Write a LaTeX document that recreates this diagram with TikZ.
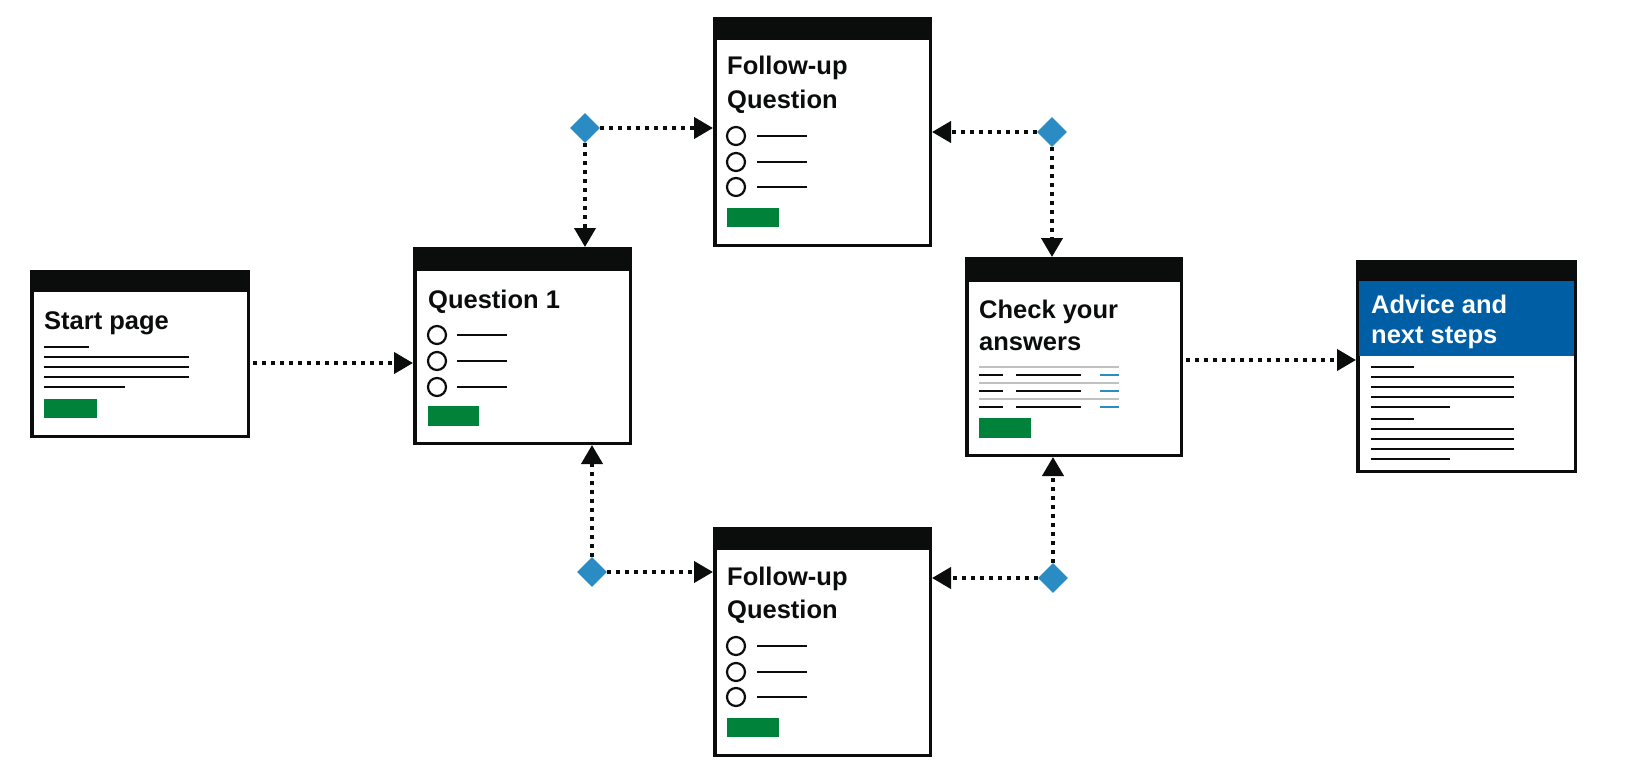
\documentclass[tikz,border=0pt]{standalone}
\usepackage{fontspec}
\setmainfont{Liberation Sans}
\usetikzlibrary{arrows.meta,shapes.geometric}

\definecolor{ink}{HTML}{0B0C0C}
\definecolor{govgreen}{HTML}{00823B}
\definecolor{govblue}{HTML}{005EA5}
\definecolor{linkblue}{HTML}{2B8CC4}
\definecolor{rule}{HTML}{BFC1C3}

\tikzset{
  page/.style={draw=ink, line width=3.5pt, fill=white, inner sep=0pt},
  header/.style={fill=ink},
  title/.style={anchor=base west, inner sep=0pt, text=ink,
    font=\fontsize{25.5}{30}\selectfont\bfseries},
  whitetitle/.style={title, text=white},
  textline/.style={draw=ink, line width=2.2pt},
  greyline/.style={draw=rule, line width=2.2pt},
  blueline/.style={draw=linkblue, line width=2.2pt},
  radio/.style={draw=ink, line width=2.2pt},
  button/.style={fill=govgreen},
  branch/.style={diamond, aspect=1, fill=linkblue, inner sep=0pt,
    minimum width=30pt, minimum height=30pt},
  flow/.style={draw=ink, line width=4pt, dash pattern=on 4pt off 5pt,
    -{Triangle[length=19pt,width=21pt]}},
}

\begin{document}
\begin{tikzpicture}[x=1pt,y=-1pt]
\useasboundingbox[fill=white] (0,0) rectangle (1626,784);

% ---------- Start page ----------
\node[page, minimum width=216.5pt, minimum height=164.5pt] (start) at (140,354) {};
\fill[header] (30,270) rectangle (250,292);
\node[title] (startT) at (44,329) {Start page};
\draw[textline] (44,347) -- (89,347);
\foreach \y in {357,367,377} \draw[textline] (44,\y) -- (189,\y);
\draw[textline] (44,387) -- (125,387);
\fill[button] (44,399) rectangle (97,418);

% ---------- Question 1 ----------
\node[page, minimum width=215.5pt, minimum height=194.5pt] (q1) at (522.5,346) {};
\fill[header] (413,247) rectangle (632,271);
\node[title] (q1T) at (428,308) {Question 1};
\foreach \y in {335,361,387} {
  \draw[radio] (437,\y) circle (9);
  \draw[textline] (457,\y) -- (507,\y);
}
\fill[button] (428,406) rectangle (479,426);

% ---------- Follow-up question (upper) ----------
\node[page, minimum width=215.5pt, minimum height=226.5pt] (fu1) at (822.5,132) {};
\fill[header] (713,17) rectangle (932,40);
\node[title] (fu1a) at (727,75) {Follow-up};
\node[title] (fu1b) at (727,108) {Question};
\foreach \y in {136,162,187} {
  \draw[radio] (736,\y) circle (9);
  \draw[textline] (757,\y) -- (807,\y);
}
\fill[button] (727,208) rectangle (779,227);

% ---------- Follow-up question (lower) ----------
\node[page, minimum width=215.5pt, minimum height=226.5pt] (fu2) at (822.5,642) {};
\fill[header] (713,527) rectangle (932,550);
\node[title] (fu2a) at (727,585) {Follow-up};
\node[title] (fu2b) at (727,618) {Question};
\foreach \y in {646,672,697} {
  \draw[radio] (736,\y) circle (9);
  \draw[textline] (757,\y) -- (807,\y);
}
\fill[button] (727,718) rectangle (779,737);

% ---------- Check your answers ----------
\node[page, minimum width=214.5pt, minimum height=196.5pt] (cya) at (1074,357) {};
\fill[header] (965,257) rectangle (1183,282);
\node[title] (cyaA) at (979,318) {Check your};
\node[title] (cyaB) at (979,350) {answers};
\foreach \y in {367,383,399} \draw[greyline] (979,\y) -- (1119,\y);
\foreach \y in {375,391,407} {
  \draw[textline] (979,\y) -- (1003,\y);
  \draw[textline] (1016,\y) -- (1081,\y);
  \draw[blueline] (1100,\y) -- (1119,\y);
}
\fill[button] (979,418) rectangle (1031,438);

% ---------- Advice and next steps ----------
\node[page, minimum width=217.5pt, minimum height=209.5pt] (adv) at (1466.5,366.5) {};
\fill[header] (1356,260) rectangle (1577,281);
\fill[govblue] (1358.8,281) rectangle (1574.2,356);
\node[whitetitle] (advA) at (1371,313) {Advice and};
\node[whitetitle] (advB) at (1371,343) {next steps};
\foreach \base in {367,419} {
  \draw[textline] (1371,\base) -- (1414,\base);
  \foreach \d in {10,20,30} \draw[textline] (1371,\base+\d) -- (1514,\base+\d);
  \draw[textline] (1371,\base+40) -- (1450,\base+40);
}

% ---------- Branch points ----------
\node[branch] (d1) at (585,128) {};
\node[branch] (d2) at (592,572) {};
\node[branch] (d3) at (1052,132) {};
\node[branch] (d4) at (1053,578) {};

% ---------- Connectors ----------
\draw[flow, shorten <=3pt] (start.east |- 0,363) coordinate (s0) -- (q1.west |- s0);
\draw[flow] (d1) -- (fu1.west |- d1);
\draw[flow] (d1) -- (d1 |- q1.north);
\draw[flow] (d2) -- (fu2.west |- d2);
\draw[flow] (d2) -- (d2 |- q1.south);
\draw[flow] (d3) -- (fu1.east |- d3);
\draw[flow] (d3) -- (d3 |- cya.north);
\draw[flow] (d4) -- (fu2.east |- d4);
\draw[flow] (d4) -- (d4 |- cya.south);
\draw[flow, shorten <=3pt] (cya.east |- 0,360) coordinate (c0) -- (adv.west |- c0);
\end{tikzpicture}
\end{document}
